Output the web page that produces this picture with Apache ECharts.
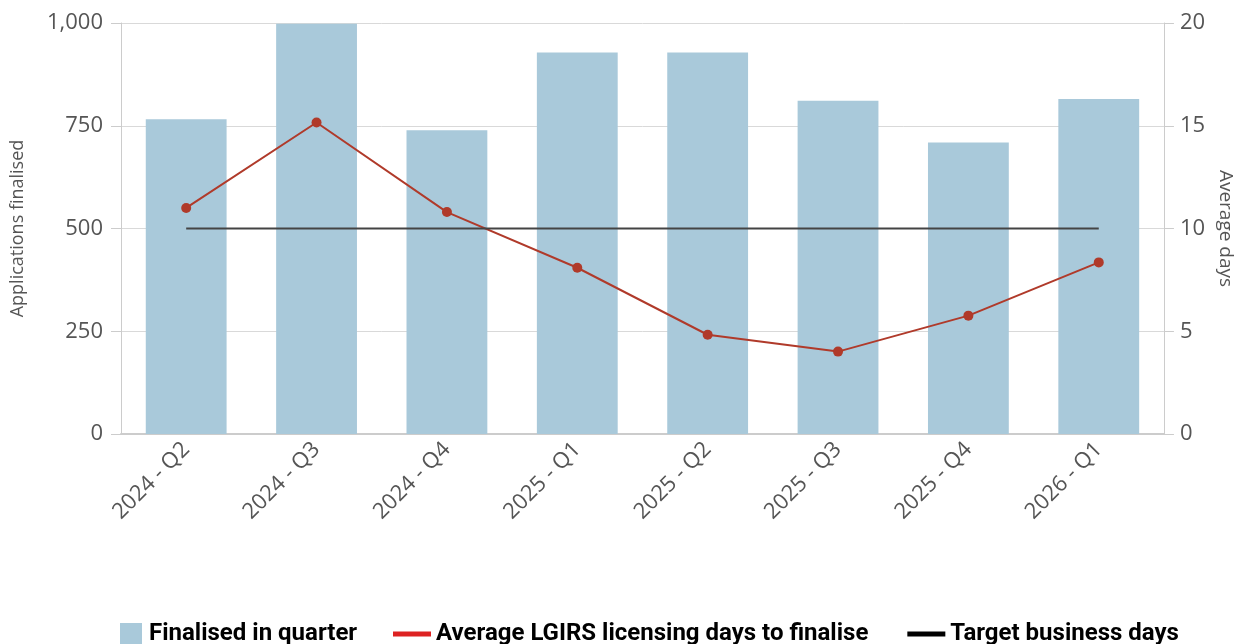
<!DOCTYPE html>
<html>
<head>
    <meta charset="utf-8">
    <title>Applications finalised</title>
    <style type="text/css">
        html, body { margin: 0; padding: 0; background: #fff; }
        #main { width: 1243px; height: 644px; }
    </style>
</head>
<body>
    <div id="main"></div>
<script src="https://cdn.jsdelivr.net/npm/echarts@6/dist/echarts.min.js"></script>
<script type="text/javascript">
    var quarters = ['2024 - Q2', '2024 - Q3', '2024 - Q4', '2025 - Q1', '2025 - Q2', '2025 - Q3', '2025 - Q4', '2026 - Q1'];
    var finalised = [766, 998, 739, 928, 928, 811, 709, 815];
    var avgDays = [11.0, 15.16, 10.8, 8.09, 4.83, 4.01, 5.76, 8.35];
    var targetDays = [10, 10, 10, 10, 10, 10, 10, 10];

    var axisFont = 'Open Sans';
    var legendFont = 'Roboto';

    var option = {
        backgroundColor: '#FFFFFF',
        animation: false,
        grid: { left: 121, right: 76, top: 23, bottom: 210 },
        legend: [{
            left: 115, top: 617,
            itemWidth: 22, itemHeight: 22, itemGap: 30,
            textStyle: { fontFamily: legendFont, fontWeight: 'bold', fontSize: 24, color: '#000', padding: [0, 0, 0, 2] },
            data: [{ name: 'Finalised in quarter', icon: 'rect' }]
        }, {
            left: 388, top: 617,
            itemWidth: 38, itemHeight: 5, itemGap: 39,
            textStyle: { fontFamily: legendFont, fontWeight: 'bold', fontSize: 24, color: '#000' },
            data: [
                { name: 'Average LGIRS licensing days to finalise', icon: 'rect', itemStyle: { color: '#dd2222' } },
                { name: 'Target business days', icon: 'rect', itemStyle: { color: '#000' } }
            ]
        }],
        xAxis: {
            type: 'category',
            data: quarters,
            axisLine: { lineStyle: { color: '#cccccc', width: 2 } },
            axisTick: { show: false },
            axisLabel: { rotate: 45, margin: 12, fontFamily: axisFont, fontSize: 22, color: '#555' }
        },
        yAxis: [{
            type: 'value',
            min: 0, max: 1000, interval: 250,
            name: 'Applications finalised',
            nameLocation: 'middle',
            nameGap: 94,
            nameTextStyle: { fontFamily: axisFont, fontSize: 18, color: '#555' },
            axisLine: { show: true, lineStyle: { color: '#cccccc' } },
            axisTick: { show: true, length: 10, lineStyle: { color: '#cccccc' } },
            splitLine: { lineStyle: { color: '#d9d9d9' } },
            axisLabel: {
                margin: 18, fontFamily: axisFont, fontSize: 22, color: '#555',
                formatter: function (v) { return v.toLocaleString('en-US'); }
            }
        }, {
            type: 'value',
            min: 0, max: 20, interval: 5,
            name: 'Average days',
            nameLocation: 'middle',
            nameGap: 50,
            nameRotate: -90,
            nameTextStyle: { fontFamily: axisFont, fontSize: 19, color: '#555' },
            axisLine: { show: true, lineStyle: { color: '#cccccc' } },
            axisTick: { show: true, length: 10, lineStyle: { color: '#cccccc' } },
            splitLine: { show: false },
            axisLabel: { margin: 16, fontFamily: axisFont, fontSize: 22, color: '#555' }
        }],
        series: [{
            name: 'Finalised in quarter',
            type: 'bar',
            data: finalised,
            barWidth: '62%',
            itemStyle: { color: '#a9c9da' }
        }, {
            name: 'Average LGIRS licensing days to finalise',
            type: 'line',
            yAxisIndex: 1,
            data: avgDays,
            symbol: 'circle',
            symbolSize: 10,
            lineStyle: { color: '#b03a2a', width: 2 },
            itemStyle: { color: '#b03a2a' }
        }, {
            name: 'Target business days',
            type: 'line',
            yAxisIndex: 1,
            data: targetDays,
            symbol: 'none',
            lineStyle: { color: '#444444', width: 2 },
            itemStyle: { color: '#444444' }
        }]
    };

    var myChart = echarts.init(document.getElementById('main'));
    myChart.setOption(option);
</script>
</body>
</html>
